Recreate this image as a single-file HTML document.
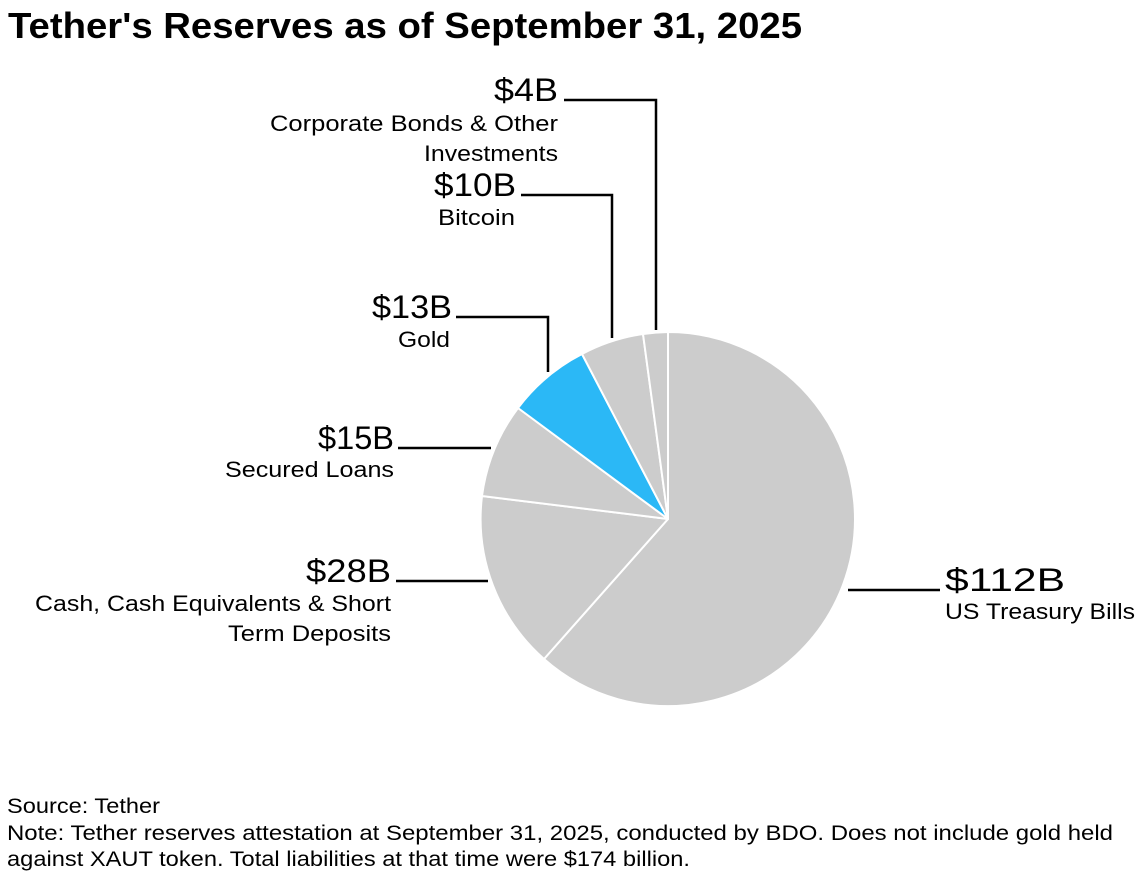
<!DOCTYPE html>
<html><head><meta charset="utf-8"><style>
html,body{margin:0;padding:0;background:#fff;}
svg{display:block;}
text{font-family:"Liberation Sans",sans-serif;fill:#000;}
.v{font-size:32px;}
.d{font-size:22px;}
.f{font-size:21px;}
</style></head><body>
<svg width="1140" height="882" viewBox="0 0 1140 882" xmlns="http://www.w3.org/2000/svg">
<text x="8" y="38" font-size="36" font-weight="bold" textLength="794" lengthAdjust="spacingAndGlyphs">Tether's Reserves as of September 31, 2025</text>

<g stroke="#fff" stroke-width="2" stroke-linejoin="round">
<path d="M668,519 L668,332 A187,187 0 1 1 544,659 Z" fill="#cccccc"/>
<path d="M668,519 L544,659 A187,187 0 0 1 482,496 Z" fill="#cccccc"/>
<path d="M668,519 L482,496 A187,187 0 0 1 518,408 Z" fill="#cccccc"/>
<path d="M668,519 L518,408 A187,187 0 0 1 582,354 Z" fill="#2bb8f6"/>
<path d="M668,519 L582,354 A187,187 0 0 1 643,334 Z" fill="#cccccc"/>
<path d="M668,519 L643,334 A187,187 0 0 1 668,332 Z" fill="#cccccc"/>
</g>

<g stroke="#000" stroke-width="2.5" fill="none">
<polyline points="564,100 656,100 656,330"/>
<polyline points="521,195 612,195 612,338"/>
<polyline points="456,317 548,317 548,372"/>
<line x1="398" y1="448" x2="491" y2="448"/>
<line x1="396" y1="581" x2="488" y2="581"/>
<line x1="848" y1="590" x2="940" y2="590"/>
</g>

<g text-anchor="end">
<text class="v" x="558" y="101" textLength="64" lengthAdjust="spacingAndGlyphs">$4B</text>
<text class="d" x="558" y="131" textLength="288" lengthAdjust="spacingAndGlyphs">Corporate Bonds &amp; Other</text>
<text class="d" x="558" y="161" textLength="134" lengthAdjust="spacingAndGlyphs">Investments</text>
<text class="v" x="516" y="196" textLength="82" lengthAdjust="spacingAndGlyphs">$10B</text>
<text class="d" x="515" y="225" textLength="77" lengthAdjust="spacingAndGlyphs">Bitcoin</text>
<text class="v" x="452" y="318" textLength="80" lengthAdjust="spacingAndGlyphs">$13B</text>
<text class="d" x="450" y="347" textLength="52" lengthAdjust="spacingAndGlyphs">Gold</text>
<text class="v" x="394" y="449" textLength="76" lengthAdjust="spacingAndGlyphs">$15B</text>
<text class="d" x="394" y="477" textLength="169" lengthAdjust="spacingAndGlyphs">Secured Loans</text>
<text class="v" x="391" y="582" textLength="85" lengthAdjust="spacingAndGlyphs">$28B</text>
<text class="d" x="391" y="611" textLength="356" lengthAdjust="spacingAndGlyphs">Cash, Cash Equivalents &amp; Short</text>
<text class="d" x="391" y="641" textLength="163" lengthAdjust="spacingAndGlyphs">Term Deposits</text>
</g>
<text class="v" x="945" y="591" textLength="120" lengthAdjust="spacingAndGlyphs">$112B</text>
<text class="d" x="945" y="619" textLength="190" lengthAdjust="spacingAndGlyphs">US Treasury Bills</text>

<text class="f" x="7" y="813" textLength="153" lengthAdjust="spacingAndGlyphs">Source: Tether</text>
<text class="f" x="7" y="840" textLength="1106" lengthAdjust="spacingAndGlyphs">Note: Tether reserves attestation at September 31, 2025, conducted by BDO. Does not include gold held</text>
<text class="f" x="7" y="866" textLength="683" lengthAdjust="spacingAndGlyphs">against XAUT token. Total liabilities at that time were $174 billion.</text>
</svg>
</body></html>
